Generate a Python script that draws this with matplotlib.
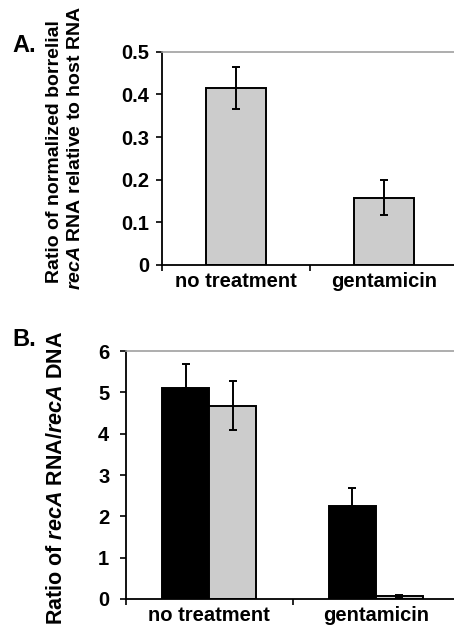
import matplotlib
matplotlib.use("Agg")
import matplotlib.pyplot as plt
import numpy as np

plt.rcParams['font.family'] = 'Liberation Sans'
plt.rcParams['font.weight'] = 'bold'
plt.rcParams['mathtext.fontset'] = 'custom'
plt.rcParams['mathtext.it'] = 'Liberation Sans:italic:bold'
plt.rcParams['mathtext.rm'] = 'Liberation Sans:bold'

# panel A data
catsA = ["no treatment", "gentamicin"]
valsA = [0.415, 0.158]
errA = [0.049, 0.041]

# panel B data
catsB = ["no treatment", "gentamicin"]
blackB = [5.11, 2.25]
blackErrB = [0.57, 0.43]
grayB = [4.68, 0.08]
grayErrB = [0.60, 0.02]

GRAY = "#cccccc"
FS = 14.5


def style_axes(ax, ymax, ncat, ypad):
    ax.set_xlim(0, ncat)
    ax.set_ylim(0, ymax)
    ax.spines['right'].set_visible(False)
    ax.spines['top'].set_color('#a0a0a0')
    ax.spines['top'].set_linewidth(1.2)
    for s in ['left', 'bottom']:
        ax.spines[s].set_linewidth(1.3)
    ax.set_xticks(np.arange(ncat + 1))
    ax.set_xticks(np.arange(ncat) + 0.5, minor=True)
    ax.tick_params(axis='x', which='major', direction='out', length=4, width=1.2, labelbottom=False)
    ax.tick_params(axis='x', which='minor', length=0, pad=5, labelsize=FS)
    ax.tick_params(axis='y', direction='out', length=4, width=1.2, pad=ypad, labelsize=FS)
    for lab in ax.get_yticklabels() + ax.get_xticklabels(minor=True):
        lab.set_fontweight('bold')


fig = plt.figure(figsize=(4.54, 6.32), dpi=100)

# ---- panel A
axA = fig.add_axes([162 / 454, 1 - 265 / 632, 296 / 454, (265 - 51.7) / 632])
xA = np.arange(len(catsA)) + 0.5
axA.bar(xA, valsA, width=0.41, color=GRAY, edgecolor='black', linewidth=1.4, zorder=2)
axA.errorbar(xA, valsA, yerr=errA, fmt='none', ecolor='black', elinewidth=1.4,
             capsize=3, capthick=1.4, zorder=3)
axA.set_yticks([0, 0.1, 0.2, 0.3, 0.4, 0.5])
axA.set_yticklabels(["0", "0.1", "0.2", "0.3", "0.4", "0.5"])
axA.set_xticklabels(catsA, minor=True)
style_axes(axA, 0.5, 2, 5)
fig.text(55 / 454, 1 - 152 / 632, "Ratio of normalized borrelial",
         rotation=90, ha='center', va='center', fontsize=14, fontweight='bold')
fig.text(76 / 454, 1 - 148 / 632, r"$\mathit{recA}$ RNA relative to host RNA",
         rotation=90, ha='center', va='center', fontsize=14, fontweight='bold')
fig.text(12 / 454, 1 - 45 / 632, "A.", fontsize=17, fontweight='bold', va='center')

# ---- panel B
axB = fig.add_axes([126 / 454, 1 - 599 / 632, 333 / 454, (599 - 351) / 632])
xB = np.arange(len(catsB)) + 0.5
w = 0.283
axB.bar(xB - w / 2, blackB, width=w, color='black', edgecolor='black', linewidth=1.4, zorder=2)
axB.bar(xB + w / 2, grayB, width=w, color=GRAY, edgecolor='black', linewidth=1.4, zorder=2)
axB.errorbar(xB - w / 2, blackB, yerr=[np.zeros(2), blackErrB], fmt='none', ecolor='black',
             elinewidth=1.4, capsize=3, capthick=1.4, zorder=3)
axB.errorbar(xB + w / 2, grayB, yerr=grayErrB, fmt='none', ecolor='black',
             elinewidth=1.4, capsize=3, capthick=1.4, zorder=3)
axB.set_yticks(range(0, 7))
axB.set_xticklabels(catsB, minor=True)
style_axes(axB, 6, 2, 8)
fig.text(57 / 454, 1 - 478 / 632, r"Ratio of $\mathit{recA}$ RNA/$\mathit{recA}$ DNA",
         rotation=90, ha='center', va='center', fontsize=15.5, fontweight='bold')
fig.text(12 / 454, 1 - 340 / 632, "B.", fontsize=17, fontweight='bold', va='center')

fig.savefig("out.png", dpi=100)
